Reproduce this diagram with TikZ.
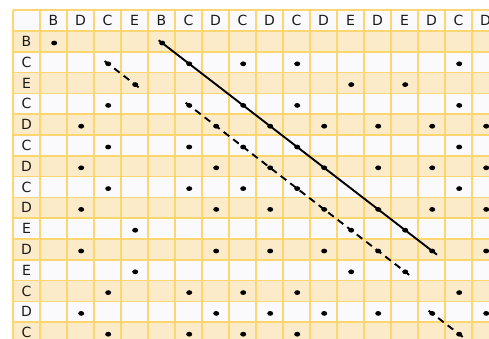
\documentclass[tikz,border=0pt]{standalone}
\usepackage{fontspec}
\setmainfont{DejaVu Sans}
\usetikzlibrary{shapes.geometric}
\definecolor{gridc}{HTML}{FDD66F}
\definecolor{rowo}{HTML}{FCEBC8}
\definecolor{roww}{HTML}{FAF9FC}
\definecolor{txt}{HTML}{1A1A1A}
\begin{document}
\begin{tikzpicture}[x=1pt,y=-1pt,
  dot/.style={ellipse,fill=black,inner sep=0pt,minimum width=6pt,minimum height=4.8pt},
  lbl/.style={anchor=base,inner sep=0pt,text=txt,font=\fontsize{14}{16}\selectfont},
  gridline/.style={draw=gridc,line width=1.6pt},
  diag/.style={line width=1.9pt,black},
  dashdiag/.style={line width=1.9pt,black,dash pattern=on 7pt off 5pt}]
\useasboundingbox (0,0) rectangle (489,338);
\clip (0,0) rectangle (489,338);
\fill[white] (0,0) rectangle (489,338);
\def\rows{B,C,E,C,D,C,D,C,D,E,D,E,C,D,C}
\def\cols{B,D,C,E,B,C,D,C,D,C,D,E,D,E,D,C,D}
% cell backgrounds
\fill[roww] (13,10.2) rectangle (499,343);
\foreach \r in {1,3,...,15}
  \fill[rowo] (13,{10.2+20.8*\r}) rectangle (499,{10.2+20.8*(\r+1)});
% grid
\foreach \k in {0,...,17}
  \draw[gridline] ({13+27*\k},10.2) -- ({13+27*\k},343);
\foreach \k in {0,...,16}
  \draw[gridline] (13,{10.2+20.8*\k}) -- (499,{10.2+20.8*\k});
% header row
\foreach \cl [count=\c] in \cols
  \node[lbl] (h\c) at ({13+27*(\c+0.5)},{20.6+5.1}) {\cl};
% row labels and dots
\foreach \rl [count=\r] in \rows {
  \node[lbl] (r\r) at (26.5,{10.2+20.8*(\r+0.5)+5.1}) {\rl};
  \foreach \cl [count=\c] in \cols {
    \edef\tmpa{\rl}\edef\tmpb{\cl}
    \ifx\tmpa\tmpb
      \node[dot] (d\r-\c) at ({13+27*(\c+0.5)+0.7},{10.2+20.8*(\r+0.5)+1.6}) {};
    \fi
  }
}
% diagonals
\draw[diag,shorten <=-4.5pt,shorten >=-6pt] (d1-5.center) -- (d11-15.center);
\draw[dashdiag,shorten <=-4.5pt,shorten >=-5pt] (d2-3.center) -- (d3-4.center);
\draw[dashdiag,shorten <=-4.5pt,shorten >=-5pt] (d4-6.center) -- (d12-14.center);
\draw[dashdiag,shorten <=-4.5pt,shorten >=-20pt] (d14-15.center) -- (d15-16.center);
\end{tikzpicture}
\end{document}
